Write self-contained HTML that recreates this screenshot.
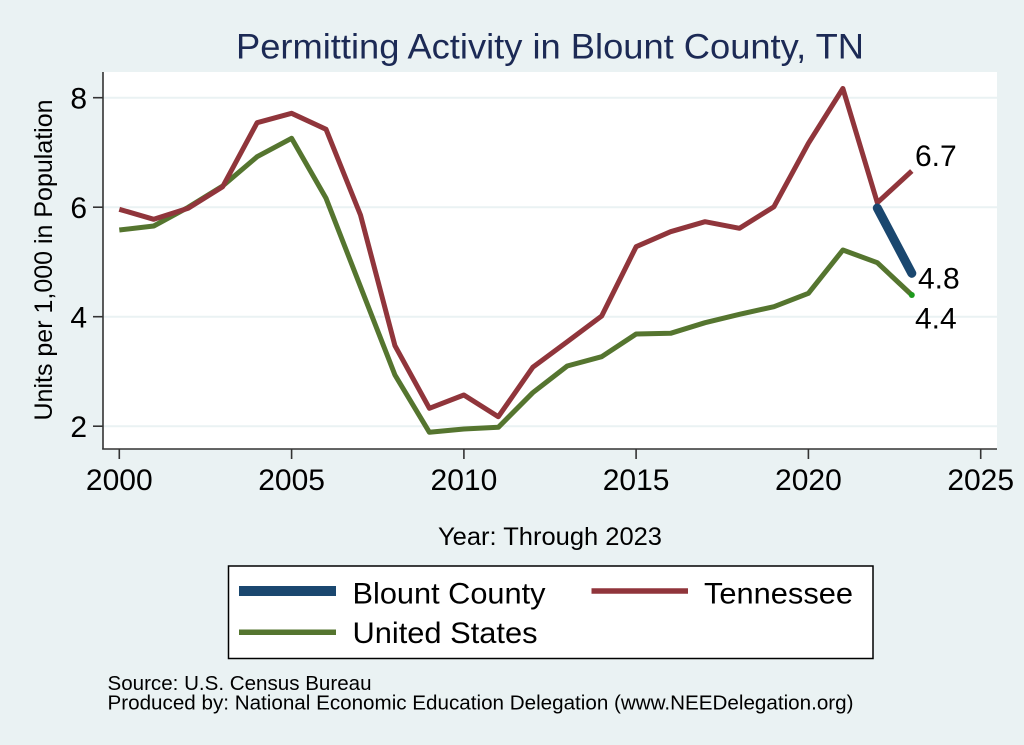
<!DOCTYPE html>
<html>
<head>
<meta charset="utf-8">
<style>
  html, body { margin: 0; padding: 0; background: #eaf2f3; }
  svg { display: block; }
  text { font-family: "Liberation Sans", Arial, sans-serif; }
</style>
</head>
<body>
<svg width="1024" height="745" viewBox="0 0 1024 745" xmlns="http://www.w3.org/2000/svg">
  <rect x="0" y="0" width="1024" height="745" fill="#eaf2f3"/>
  <!-- plot region -->
  <rect x="103" y="72" width="894" height="377" fill="#ffffff"/>
  <!-- gridlines -->
  <g stroke="#eaf2f3" stroke-width="2">
    <line x1="103" y1="97.7" x2="997" y2="97.7"/>
    <line x1="103" y1="207.2" x2="997" y2="207.2"/>
    <line x1="103" y1="316.7" x2="997" y2="316.7"/>
    <line x1="103" y1="426.2" x2="997" y2="426.2"/>
  </g>
  <!-- axes -->
  <g stroke="#333" stroke-width="1.6" fill="none">
    <line x1="103" y1="72" x2="103" y2="449.5"/>
    <line x1="102.2" y1="449" x2="997" y2="449"/>
    <!-- y ticks -->
    <line x1="93" y1="97.7" x2="103" y2="97.7"/>
    <line x1="93" y1="207.2" x2="103" y2="207.2"/>
    <line x1="93" y1="316.7" x2="103" y2="316.7"/>
    <line x1="93" y1="426.2" x2="103" y2="426.2"/>
    <!-- x ticks -->
    <line x1="119.3" y1="449" x2="119.3" y2="459"/>
    <line x1="291.6" y1="449" x2="291.6" y2="459"/>
    <line x1="463.9" y1="449" x2="463.9" y2="459"/>
    <line x1="636.1" y1="449" x2="636.1" y2="459"/>
    <line x1="808.4" y1="449" x2="808.4" y2="459"/>
    <line x1="980.7" y1="449" x2="980.7" y2="459"/>
  </g>
  <!-- y tick labels -->
  <g font-size="30" fill="#000" text-anchor="end">
    <text x="87" y="108.3">8</text>
    <text x="87" y="217.8">6</text>
    <text x="87" y="327.3">4</text>
    <text x="87" y="436.8">2</text>
  </g>
  <!-- x tick labels -->
  <g font-size="30" fill="#000" text-anchor="middle">
    <text x="119.3" y="490">2000</text>
    <text x="291.6" y="490">2005</text>
    <text x="463.9" y="490">2010</text>
    <text x="636.1" y="490">2015</text>
    <text x="808.4" y="490">2020</text>
    <text x="980.7" y="490">2025</text>
  </g>
  <!-- axis titles -->
  <text x="550" y="545" font-size="25" text-anchor="middle" fill="#000" textLength="224" lengthAdjust="spacingAndGlyphs">Year: Through 2023</text>
  <text transform="translate(52,260) rotate(-90)" font-size="25" text-anchor="middle" fill="#000">Units per 1,000 in Population</text>
  <!-- title -->
  <text x="550" y="58.5" font-size="35" text-anchor="middle" fill="#1c2a55" textLength="628" lengthAdjust="spacingAndGlyphs">Permitting Activity in Blount County, TN</text>

  <!-- series: United States -->
  <polyline fill="none" stroke="#55752f" stroke-width="5" stroke-linejoin="round"
    points="119.3,230 153.76,226 188.21,207.3 222.67,186 257.12,156.7 291.58,138.3 326.04,198.3 360.49,286.7 394.95,375 429.4,432.3 463.86,429 498.32,427.3 532.77,392.7 567.23,366 601.68,356.7 636.14,334 670.6,333.3 705.05,322.7 739.51,314.3 773.96,306.7 808.42,293.3 842.88,250 877.33,262.7 911.79,295"/>
  <!-- series: Tennessee -->
  <polyline fill="none" stroke="#90353b" stroke-width="5" stroke-linejoin="round"
    points="119.3,209.3 153.76,219.3 188.21,208.3 222.67,186.7 257.12,122.7 291.58,113.3 326.04,129.3 360.49,215 394.95,345.7 429.4,408.3 463.86,395 498.32,416.7 532.77,367.3 567.23,341.7 601.68,316 636.14,246.7 670.6,231.7 705.05,221.7 739.51,228.3 773.96,206.7 808.42,143.3 842.88,88.5 877.33,202.7 911.79,171"/>
  <!-- series: Blount County -->
  <line x1="877.3" y1="208" x2="911.8" y2="273.3" stroke="#1a476f" stroke-width="9" stroke-linecap="round"/>
  <circle cx="911.8" cy="295" r="3" fill="#1d9a1d"/>

  <!-- end labels -->
  <g font-size="30" fill="#000">
    <text x="915" y="166">6.7</text>
    <text x="918" y="288.3">4.8</text>
    <text x="915" y="328.3">4.4</text>
  </g>

  <!-- legend -->
  <rect x="228.5" y="566" width="644.5" height="92.5" fill="#ffffff" stroke="#000" stroke-width="1.5"/>
  <line x1="239" y1="591" x2="336" y2="591" stroke="#1a476f" stroke-width="10"/>
  <line x1="591.5" y1="591" x2="688" y2="591" stroke="#90353b" stroke-width="5.5"/>
  <line x1="239" y1="632.3" x2="336" y2="632.3" stroke="#55752f" stroke-width="5.5"/>
  <g font-size="30" fill="#000">
    <text x="352.5" y="603.5" textLength="193" lengthAdjust="spacingAndGlyphs">Blount County</text>
    <text x="704" y="603.5" textLength="149" lengthAdjust="spacingAndGlyphs">Tennessee</text>
    <text x="352.5" y="643" textLength="185" lengthAdjust="spacingAndGlyphs">United States</text>
  </g>

  <!-- notes -->
  <g font-size="20" fill="#000">
    <text x="107.5" y="690" textLength="264" lengthAdjust="spacingAndGlyphs">Source: U.S. Census Bureau</text>
    <text x="107.5" y="709.3" textLength="746" lengthAdjust="spacingAndGlyphs">Produced by: National Economic Education Delegation (www.NEEDelegation.org)</text>
  </g>
</svg>
</body>
</html>
